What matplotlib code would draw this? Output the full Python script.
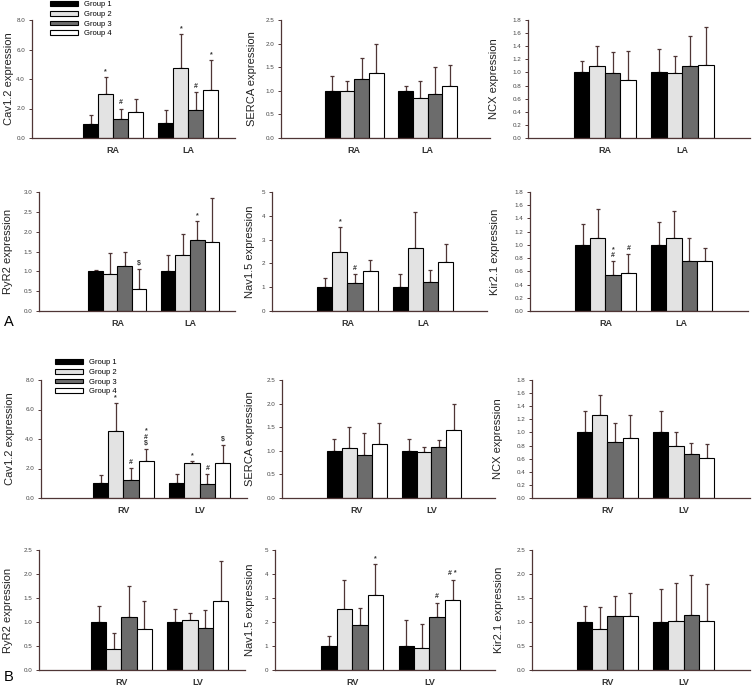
import numpy as np
import matplotlib
matplotlib.use("Agg")
import matplotlib.pyplot as plt
from matplotlib.ticker import FormatStrFormatter, MultipleLocator
from matplotlib.patches import Patch

groups = ["Group 1", "Group 2", "Group 3", "Group 4"]
cats_a = ["RA", "LA"]
cats_b = ["RV", "LV"]

# means / SD, one row per region, columns = groups 1-4
a_cav_mean = [[0.98, 3.0, 1.31, 1.74], [1.0, 4.73, 1.87, 3.27]]
a_cav_sd = [[0.57, 1.12, 0.69, 0.89], [0.9, 2.32, 1.26, 2.03]]
a_serca_mean = [[1.0, 0.99, 1.24, 1.37], [1.0, 0.85, 0.94, 1.11]]
a_serca_sd = [[0.32, 0.21, 0.46, 0.63], [0.11, 0.35, 0.57, 0.43]]
a_ncx_mean = [[1.0, 1.1, 0.99, 0.89], [1.0, 0.99, 1.10, 1.11]]
a_ncx_sd = [[0.17, 0.30, 0.32, 0.44], [0.36, 0.26, 0.46, 0.58]]
a_ryr_mean = [[1.0, 0.94, 1.13, 0.55], [1.0, 1.40, 1.78, 1.74]]
a_ryr_sd = [[0.03, 0.53, 0.37, 0.50], [0.40, 0.55, 0.49, 1.12]]
a_nav_mean = [[1.0, 2.5, 1.18, 1.67], [1.0, 2.63, 1.21, 2.04]]
a_nav_sd = [[0.4, 1.03, 0.36, 0.46], [0.55, 1.53, 0.50, 0.77]]
a_kir_mean = [[1.0, 1.1, 0.54, 0.58], [1.0, 1.11, 0.76, 0.75]]
a_kir_sd = [[0.32, 0.44, 0.21, 0.28], [0.35, 0.41, 0.34, 0.21]]

b_cav_mean = [[0.99, 4.52, 1.24, 2.52], [0.99, 2.36, 0.97, 2.36]]
b_cav_sd = [[0.54, 1.91, 0.78, 0.78], [0.61, 0.13, 0.65, 1.21]]
b_serca_mean = [[1.0, 1.06, 0.92, 1.15], [1.0, 0.98, 1.08, 1.44]]
b_serca_sd = [[0.25, 0.44, 0.45, 0.44], [0.25, 0.10, 0.15, 0.56]]
b_ncx_mean = [[1.0, 1.27, 0.86, 0.91], [1.0, 0.79, 0.67, 0.61]]
b_ncx_sd = [[0.32, 0.30, 0.29, 0.35], [0.33, 0.22, 0.17, 0.22]]
b_ryr_mean = [[1.0, 0.44, 1.10, 0.85], [1.0, 1.04, 0.88, 1.44]]
b_ryr_sd = [[0.33, 0.34, 0.65, 0.59], [0.28, 0.15, 0.37, 0.84]]
b_nav_mean = [[0.98, 2.55, 1.87, 3.13], [0.99, 0.91, 2.2, 2.91]]
b_nav_sd = [[0.43, 1.22, 0.72, 1.28], [1.08, 1.0, 0.61, 0.86]]
b_kir_mean = [[0.99, 0.86, 1.12, 1.13], [0.99, 1.03, 1.14, 1.02]]
b_kir_sd = [[0.34, 0.45, 0.42, 0.48], [0.69, 0.79, 0.83, 0.78]]

# significance marks: (region, group, text)
a_cav_marks = [(0, 1, "*"), (0, 2, "#"), (1, 1, "*"), (1, 2, "#"), (1, 3, "*")]
a_ryr_marks = [(0, 3, "$"), (1, 2, "*")]
a_nav_marks = [(0, 1, "*"), (0, 2, "#")]
a_kir_marks = [(0, 2, "*\n#"), (0, 3, "#")]
b_cav_marks = [(0, 1, "*"), (0, 2, "#"), (0, 3, "*\n#\n$"), (1, 1, "*"), (1, 2, "#"), (1, 3, "$")]
b_nav_marks = [(0, 3, "*"), (1, 2, "#"), (1, 3, "# *")]

colors = ["#000000", "#e3e3e3", "#6c6c6c", "#ffffff"]
axcol = "#4f3535"

W, H = 756, 686
fig = plt.figure(figsize=(W / 100, H / 100), dpi=100)
plt.rcParams["font.family"] = ["Liberation Sans", "DejaVu Sans"]


def make_ax(l, r, t, b):
    return fig.add_axes([l / W, 1 - b / H, (r - l) / W, (b - t) / H])


def panel(ax, cats, mean, sd, marks, ymax, step, fmt, ylabel, xlim, lab_px, l, r):
    mean = np.array(mean)
    sd = np.array(sd)
    x = np.arange(len(cats))
    w = 0.2
    for j in range(4):
        xs = x + (j - 1.5) * w
        ax.bar(xs, mean[:, j], w, color=colors[j], edgecolor="black", linewidth=0.8, zorder=2)
        ax.errorbar(xs, mean[:, j], yerr=[np.zeros(len(cats)), sd[:, j]], fmt="none",
                    ecolor=axcol, elinewidth=0.9, capsize=1.2, capthick=0.9, zorder=1)
    for ri, gi, txt in marks:
        ax.annotate(txt, (x[ri] + (gi - 1.5) * w, mean[ri, gi] + sd[ri, gi]),
                    xytext=(0, 1.5), textcoords="offset points", ha="center", va="bottom",
                    fontsize=5, fontweight="bold", color="#333333", linespacing=0.9)
    ax.set_xlim(*xlim)
    ax.set_ylim(0, ymax)
    ax.yaxis.set_major_locator(MultipleLocator(step))
    ax.yaxis.set_major_formatter(FormatStrFormatter(fmt))
    ax.set_xticks(x)
    ax.set_xticklabels(cats, fontsize=6.5, fontweight="bold", color="#333333")
    ax.tick_params(axis="x", length=0, pad=6)
    ax.tick_params(axis="y", labelsize=4.5, length=2, width=0.7, color=axcol,
                   labelcolor="#444444", pad=3)
    for s in ["top", "right"]:
        ax.spines[s].set_visible(False)
    for s in ["left", "bottom"]:
        ax.spines[s].set_color(axcol)
        ax.spines[s].set_linewidth(0.9)
    ax.set_ylabel(ylabel, fontsize=8, color="#222222",
                  family=["Liberation Sans Narrow", "Liberation Sans", "DejaVu Sans"])
    ax.yaxis.set_label_coords((lab_px - l) / (r - l), 0.5)


# layout in pixels: (left, right, top, bottom)
xl1 = (-1.08, 1.62)
xl2 = (-1.0, 1.85)
xl3 = (-0.99, 1.87)

specs = [
    ((32, 235, 20, 138), cats_a, a_cav_mean, a_cav_sd, a_cav_marks, 8, 2, "%.1f", "Cav1.2 expression", xl1, 14),
    ((281, 490, 20, 138), cats_a, a_serca_mean, a_serca_sd, [], 2.5, 0.5, "%.1f", "SERCA expression", xl2, 257),
    ((528, 750, 20, 138), cats_a, a_ncx_mean, a_ncx_sd, [], 1.8, 0.2, "%.1f", "NCX expression", xl3, 499),
    ((39, 235, 192, 311), cats_a, a_ryr_mean, a_ryr_sd, a_ryr_marks, 3, 0.5, "%.1f", "RyR2 expression", xl1, 13),
    ((272, 487, 192, 311), cats_a, a_nav_mean, a_nav_sd, a_nav_marks, 5, 1, "%d", "Nav1.5 expression", xl2, 255),
    ((530, 748, 192, 311), cats_a, a_kir_mean, a_kir_sd, a_kir_marks, 1.8, 0.2, "%.1f", "Kir2.1 expression", xl3, 500),
    ((41, 247, 380, 498), cats_b, b_cav_mean, b_cav_sd, b_cav_marks, 8, 2, "%.1f", "Cav1.2 expression", xl1, 15),
    ((282, 495, 380, 498), cats_b, b_serca_mean, b_serca_sd, [], 2.5, 0.5, "%.1f", "SERCA expression", xl2, 255),
    ((532, 750, 380, 498), cats_b, b_ncx_mean, b_ncx_sd, [], 1.8, 0.2, "%.1f", "NCX expression", xl3, 503),
    ((39, 245, 550, 670), cats_b, b_ryr_mean, b_ryr_sd, [], 2.5, 0.5, "%.1f", "RyR2 expression", xl1, 13),
    ((275, 495, 550, 670), cats_b, b_nav_mean, b_nav_sd, b_nav_marks, 5, 1, "%d", "Nav1.5 expression", xl2, 255),
    ((532, 750, 550, 670), cats_b, b_kir_mean, b_kir_sd, [], 2.5, 0.5, "%.1f", "Kir2.1 expression", xl3, 504),
]

for (l, r, t, b), cats, m, s, mk, ymax, step, fmt, yl, xl, lp in specs:
    ax = make_ax(l, r, t, b)
    panel(ax, cats, m, s, mk, ymax, step, fmt, yl, xl, lp, l, r)

handles = [Patch(facecolor=c, edgecolor="black", linewidth=0.8) for c in colors]
for lx, ly in [(50, 1), (55, 359)]:
    fig.legend(handles, groups, loc="upper left", bbox_to_anchor=(lx / W, 1 - ly / H),
               frameon=False, fontsize=5.5, handlelength=3.6, handleheight=0.6,
               labelspacing=0.35, borderpad=0, borderaxespad=0, handletextpad=0.8)

fig.text(4 / W, 1 - 322 / H, "A", fontsize=10.5, va="center", ha="left")
fig.text(4 / W, 1 - 677 / H, "B", fontsize=10.5, va="center", ha="left")

fig.savefig("out.png", dpi=100)
